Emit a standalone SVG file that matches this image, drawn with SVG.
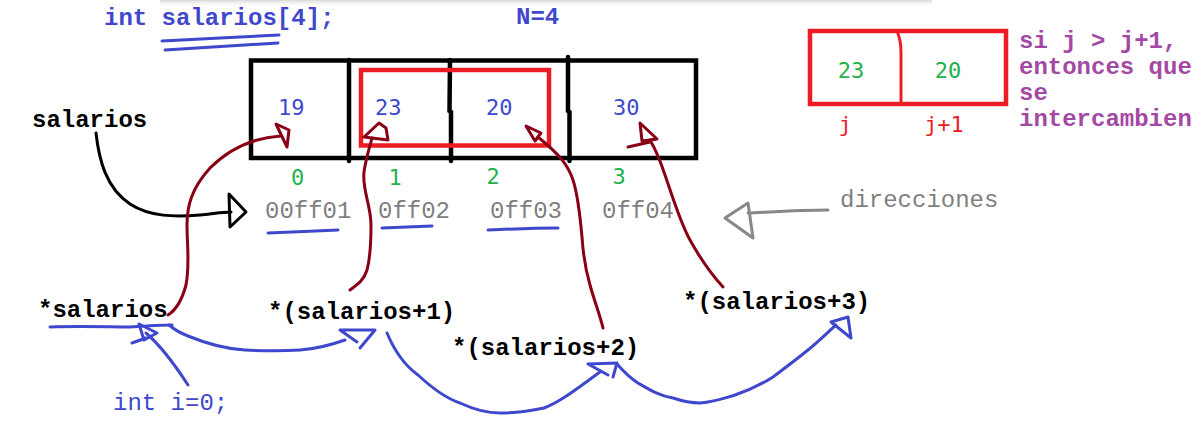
<svg xmlns="http://www.w3.org/2000/svg" width="1203" height="444" viewBox="0 0 1203 444">
<defs>
<linearGradient id="shade" x1="0" y1="0" x2="0" y2="1">
<stop offset="0" stop-color="#d8d8d8"/>
<stop offset="1" stop-color="#ffffff" stop-opacity="0"/>
</linearGradient>
</defs>
<style>
.mono{font-family:"Liberation Mono","Courier New",monospace;font-size:24px}
.b{font-weight:bold}
.num{font-family:"DejaVu Sans Mono",monospace;font-size:22px}
.blue{fill:#3F48CC}
.green{fill:#22B14C}
.gray{fill:#7F7F7F}
.red{fill:#ED1C24}
.purple{fill:#A349A4}
.blk{fill:#000}
.ln{fill:none;stroke-linecap:round;stroke-linejoin:round;stroke-width:3}
.bl{stroke:#3F48CC}
.dr{stroke:#880015}
.gr{stroke:#888888}
.k{stroke:#000}
</style>
<rect width="1203" height="444" fill="#ffffff"/>
<rect x="160" y="0" width="772" height="7" fill="url(#shade)"/>

<g id="decl">
<text class="mono b blue" x="104" y="25">int salarios[4];</text>
<path class="ln bl" d="M162,41 C200,39 240,37 279,35 M165,50 C200,48 240,45 278,43"/>
</g>
<g id="n4"><text class="mono b blue" x="516" y="24">N=4</text></g>

<g id="array">
<rect x="251" y="60.5" width="445" height="97.5" fill="none" stroke="#000" stroke-width="4.5"/>
<path d="M349,60 L349,161 M450,60 L449.5,111 L451,112 L451,161 M568,57 L568,111 L569.5,112 L569.5,161" fill="none" stroke="#000" stroke-width="4.5" stroke-linecap="round"/>
<rect x="361" y="70" width="188" height="75.5" fill="none" stroke="#ED1C24" stroke-width="4.5"/>
<text class="num blue" x="278" y="115">19</text>
<text class="num blue" x="375" y="115">23</text>
<text class="num blue" x="486" y="115">20</text>
<text class="num blue" x="613" y="115">30</text>
<text class="num green" x="297.5" y="185" text-anchor="middle">0</text>
<text class="num green" x="395" y="185" text-anchor="middle">1</text>
<text class="num green" x="493" y="184" text-anchor="middle">2</text>
<text class="num green" x="619" y="184" text-anchor="middle">3</text>
</g>

<g id="addresses">
<text class="mono gray" x="265" y="218">00ff01</text>
<text class="mono gray" x="378" y="218">0ff02</text>
<text class="mono gray" x="490" y="218">0ff03</text>
<text class="mono gray" x="602" y="218">0ff04</text>
<path class="ln bl" d="M268,233 C290,232 315,231 338,230 M382,228 L432,226 M488,230 C510,229 535,228 558,228"/>
</g>

<g id="swapbox">
<rect x="810" y="31" width="196" height="73" fill="none" stroke="#ED1C24" stroke-width="4.5"/>
<path d="M897,31 C900,38 901,45 901,52 L901,104" fill="none" stroke="#ED1C24" stroke-width="3"/>
<text class="num green" x="851" y="78" text-anchor="middle">23</text>
<text class="num green" x="948" y="78" text-anchor="middle">20</text>
<text class="num red" x="845" y="132" text-anchor="middle">j</text>
<text class="num red" x="944" y="132" text-anchor="middle">j+1</text>
</g>
<g id="rule">
<text class="mono b purple" x="1019" y="48">si j &gt; j+1,</text>
<text class="mono b purple" x="1019" y="74">entonces que</text>
<text class="mono b purple" x="1019" y="100">se</text>
<text class="mono b purple" x="1019" y="126">intercambien</text>
</g>

<g id="salarios"><text class="mono b blk" x="32" y="127">salarios</text></g>
<g id="direcciones"><text class="mono gray" x="840" y="207">direcciones</text></g>
<g id="p0"><text class="mono b blk" x="38" y="317">*salarios</text></g>
<g id="p1"><text class="mono b blk" x="268" y="319">*(salarios+1)</text></g>
<g id="p2"><text class="mono b blk" x="452" y="355">*(salarios+2)</text></g>
<g id="p3"><text class="mono b blk" x="683" y="309">*(salarios+3)</text></g>
<g id="i0"><text class="mono blue" x="113" y="410">int i=0;</text></g>

<g id="connectors">
<path class="ln k" d="M96,133 C99,160 106,188 130,204 C150,217 175,217 200,215 C212,214 222,212 231,212"/>
<path class="ln k" d="M229,194 L230,227 L246,212 Z"/>
<path class="ln gr" d="M828,210 C800,210 770,212 748,213"/>
<path class="ln gr" d="M725,218 L748,203 L753,238 Z"/>
<path class="ln dr" d="M168,315 C176,310 182,300 186,285 C190,265 187,245 187,225 C187,205 192,188 210,168 C228,150 250,138 281,136"/>
<path class="ln dr" d="M276,124 L289,130 L287,147 Z"/>
<path class="ln dr" d="M350,290 C358,284 364,280 367,270 C371,255 371,240 371,225 C371,205 362,190 364,172 C366,158 370,146 372,138"/>
<path class="ln dr" d="M364,137 L379,123 L386,128 L388,140 Z"/>
<path class="ln dr" d="M603,328 C600,315 594,300 590,285 C585,268 583,252 582,237 C580,215 578,195 573,180 C568,165 560,155 538,137"/>
<path class="ln dr" d="M526,126 L541,133 L535,141 Z"/>
<path class="ln dr" d="M723,287 C712,275 700,258 690,240 C680,222 672,195 665,175 C660,160 656,150 650,140"/>
<path class="ln dr" d="M640,123 L657,139 L642,141 Z M628,147 L650,142"/>
<path class="ln bl" d="M50,327 C80,326 110,327 130,327 C145,326 160,325 172,325"/>
<path class="ln bl" d="M139,324 L157,333 L144,340 Z M132,343 L146,338"/>
<path class="ln bl" d="M188,385 C175,365 160,345 146,333"/>
<path class="ln bl" d="M169,325 C175,330 180,333 188,336 C205,343 225,349 245,350 C265,351 285,351 300,350 C315,349 328,346 345,340"/>
<path class="ln bl" d="M340,330 L375,330 L360,348 M340,330 L357,342"/>
<path class="ln bl" d="M387,333 C392,345 400,362 418,375 C432,388 445,398 460,403 C475,410 488,413 500,413 C515,413 530,411 544,408 C560,402 575,390 600,372"/>
<path class="ln bl" d="M588,364 L617,363 L613,377 M588,364 L608,375"/>
<path class="ln bl" d="M617,364 C625,373 630,378 638,383 C650,390 660,396 673,398 C685,402 692,403 700,403 C715,402 725,398 735,395 C750,390 762,384 773,377 C785,368 798,358 808,350 C820,340 828,332 836,325"/>
<path class="ln bl" d="M831,322 L848,317 L851,338 Z"/>
</g>
</svg>
